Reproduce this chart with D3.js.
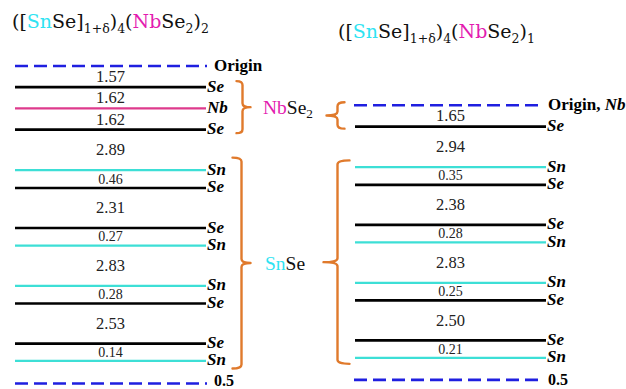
<!DOCTYPE html>
<html>
<head>
<meta charset="utf-8">
<script src="https://cdn.jsdelivr.net/npm/d3@7"></script>
<style>
  html, body { margin: 0; padding: 0; background: #fff; }
  svg { display: block; }
  text { font-family: "Liberation Serif", "DejaVu Serif", serif; }
</style>
</head>
<body>
<svg id="chart" width="626" height="389"></svg>
<script>
// Atomic planes along the stacking axis, top to bottom, with the
// interplanar distances (Å) separating each plane from the one above.
const leftAtoms  = ["Se", "Nb", "Se", "Sn", "Se", "Se", "Sn", "Sn", "Se", "Se", "Sn"];
const leftGaps   = [1.57, 1.62, 1.62, 2.89, 0.46, 2.31, 0.27, 2.83, 0.28, 2.53, 0.14];
const rightAtoms = ["Se", "Sn", "Se", "Se", "Sn", "Sn", "Se", "Se", "Sn"];
const rightGaps  = [1.65, 2.94, 0.35, 2.38, 0.28, 2.83, 0.25, 2.50, 0.21];

const leftOriginLabel  = ["Origin"];
const rightOriginLabel = ["Origin, ", "Nb"];
const boundaryLabel = "0.5";

const COL = {
  Se: "#000000",
  Nb: "#de3a8c",
  Sn: "#3ddfd6",
  dash: "#1f1fe0",
  brace: "#e07a2c",
  snText: "#2fe3f2",
  nbText: "#e31bb0"
};

const svg = d3.select("#chart");

// Display spacing: small distances and large distances are drawn on a
// compressed scale so thin SnSe puckering stays readable.
const spacing = d3.scaleLinear()
  .domain([0, 0.5, 1.7, 2.3, 3])
  .range([17, 18, 21.5, 40, 40.5])
  .clamp(true);

const END_GAP = 22.5;

function layout(gaps, top) {
  const ys = [top];
  gaps.forEach(g => ys.push(ys[ys.length - 1] + spacing(g)));
  return ys;
}

function drawPanel(opts) {
  const { atoms, gaps, top, x0, x1, dash0, dash1, labelGap, originLabel, endGap, endLabelY } = opts;
  const ys = layout(gaps, top);          // ys[0] = origin, ys[i+1] = atoms[i]
  const yEnd = ys[ys.length - 1] + endGap;
  const xs = d3.scaleLinear().domain([0, 1]).range([x0, x1]);
  const g = svg.append("g");

  // origin and half-cell boundary (dashed)
  g.selectAll("line.dash").data([ys[0], yEnd]).join("line")
    .attr("class", "dash")
    .attr("x1", dash0).attr("x2", dash1)
    .attr("y1", d => d).attr("y2", d => d)
    .attr("stroke", COL.dash).attr("stroke-width", 2.6)
    .attr("stroke-dasharray", "13 6");

  // atomic planes
  const planes = atoms.map((a, i) => ({ atom: a, y: ys[i + 1] }));
  g.selectAll("line.plane").data(planes).join("line")
    .attr("class", "plane")
    .attr("x1", xs(0)).attr("x2", xs(1))
    .attr("y1", d => d.y).attr("y2", d => d.y)
    .attr("stroke", d => COL[d.atom])
    .attr("stroke-width", d => d.atom === "Se" ? 2.7 : 2.2);

  g.selectAll("text.atom").data(planes).join("text")
    .attr("class", "atom")
    .attr("x", xs(1) + 1).attr("y", d => d.y + 4.5)
    .attr("font-size", 17).attr("font-weight", "bold").attr("font-style", "italic")
    .text(d => d.atom);

  // distance labels, centred in each gap
  const gl = gaps.map((v, i) => ({ v, y: (ys[i] + ys[i + 1]) / 2 }));
  g.selectAll("text.gap").data(gl).join("text")
    .attr("class", "gap")
    .attr("x", xs(0.5)).attr("y", d => d.y)
    .attr("text-anchor", "middle").attr("dominant-baseline", "central")
    .attr("font-size", d => d.v < 1 ? 14 : 16.5)
    .attr("fill", "#222")
    .text(d => d.v.toFixed(2));

  // origin label
  const ot = g.append("text")
    .attr("x", dash1 + labelGap).attr("y", ys[0] + 5)
    .attr("font-size", 17).attr("font-weight", "bold");
  originLabel.forEach((s, i) => ot.append("tspan")
    .attr("font-style", i === 1 ? "italic" : "normal").text(s));

  g.append("text")
    .attr("x", dash1 + labelGap).attr("y", Math.min(yEnd + 5, endLabelY))
    .attr("font-size", 16).attr("font-weight", "bold")
    .text(boundaryLabel);

  return ys;
}

// curly brace; dir = +1 tip to the right, -1 tip to the left
function brace(xv, top, bottom, dir, hook, tip) {
  const mid = (top + bottom) / 2, r = 4;
  const hx = xv - dir * hook, tx = xv + dir * tip;
  const p = d3.path();
  p.moveTo(hx, top);
  p.quadraticCurveTo(xv, top, xv, top + r);
  p.lineTo(xv, mid - r);
  p.quadraticCurveTo(xv, mid, tx, mid);
  p.quadraticCurveTo(xv, mid, xv, mid + r);
  p.lineTo(xv, bottom - r);
  p.quadraticCurveTo(xv, bottom, hx, bottom);
  svg.append("path").attr("d", p.toString())
    .attr("fill", "none").attr("stroke", COL.brace).attr("stroke-width", 2.4)
    .attr("stroke-linejoin", "round").attr("stroke-linecap", "round");
  return mid;
}

const L = drawPanel({ atoms: leftAtoms, gaps: leftGaps, top: 66, x0: 15, x1: 206,
  dash0: 15, dash1: 207, labelGap: 7, originLabel: leftOriginLabel,
  endGap: END_GAP, endLabelY: 385.5 });
const R = drawPanel({ atoms: rightAtoms, gaps: rightGaps, top: 105.3, x0: 355, x1: 546,
  dash0: 354, dash1: 542, labelGap: 6, originLabel: rightOriginLabel,
  endGap: END_GAP - 0.5, endLabelY: 385.5 });

// layer-group braces
const midNbL = brace(242.5, L[1] - 6, L[3] + 3.5, 1, 6, 8);
const midSnL = brace(241.5, L[4] - 12.5, L[11] + 7.5, 1, 9, 9);
brace(337.5, R[0] - 3, R[1] + 2, -1, 7, 11);
brace(337.5, R[2] - 6.7, R[9] + 6, -1, 12, 14);

// group labels
function formula(x, y, parts, size) {
  const t = svg.append("text").attr("x", x).attr("y", y).attr("font-size", size)
    .attr("dominant-baseline", "central");
  parts.forEach(p => {
    const s = t.append("tspan").text(p.t).attr("fill", p.c || "#111");
    if (p.sub) s.attr("font-size", size * 0.68).attr("dy", size * 0.3);
  });
}
formula(263, midNbL, [{ t: "Nb", c: COL.nbText }, { t: "Se" }, { t: "2", sub: true }], 19.5);
formula(265, midSnL, [{ t: "Sn", c: COL.snText }, { t: "Se" }], 19.5);

// titles
function title(x, y, last) {
  const size = 19;
  const t = svg.append("text").attr("x", x).attr("y", y).attr("font-size", size)
    .attr("fill", "#111").style("font-family", "'DejaVu Serif', serif");
  const sub = (s, text) => s.append("tspan").attr("font-size", 12.5).attr("dy", 5).text(text);
  const up = (s, text) => s.append("tspan").attr("dy", -5).text(text);
  t.append("tspan").text("([");
  t.append("tspan").attr("fill", COL.snText).text("Sn");
  t.append("tspan").text("Se]");
  sub(t, "1+δ");
  up(t, ")");
  sub(t, "4");
  up(t, "(");
  t.append("tspan").attr("fill", COL.nbText).text("Nb");
  t.append("tspan").text("Se");
  sub(t, "2");
  up(t, ")");
  sub(t, last);
}
title(12, 28, "2");
title(338, 38, "1");
</script>
</body>
</html>
